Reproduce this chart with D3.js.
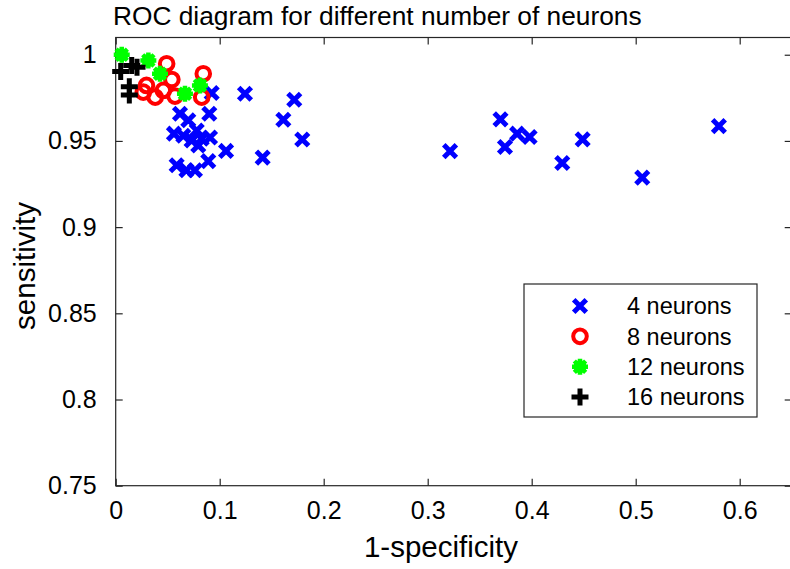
<!DOCTYPE html>
<html><head><meta charset="utf-8">
<script src="https://cdn.jsdelivr.net/npm/d3@7"></script>
<style>body{margin:0;background:#fff}svg{display:block}text{font-family:"Liberation Sans",Arial,sans-serif}</style>
</head><body><svg id="c" width="790" height="569"></svg>
<script>
const title = "ROC diagram for different number of neurons";
const xLabel = "1-specificity";
const yLabel = "sensitivity";
const xTicks = [0,0.1,0.2,0.3,0.4,0.5,0.6];
const yTicks = [0.75,0.8,0.85,0.9,0.95,1];
const seriesNames = ["4 neurons","8 neurons","12 neurons","16 neurons"];

const n4x = [0.0923,0.0618,0.09,0.0698,0.056,0.0779,0.065,0.073,0.0827,0.0907,0.0794,0.0586,0.068,0.0762,0.089,
             0.1243,0.1717,0.1612,0.1794,0.1061,0.1413,
             0.3215,0.370,0.3743,0.386,0.398,0.4294,0.449,0.580,0.5063];
const n4y = [0.9778,0.9658,0.9658,0.962,0.9542,0.956,0.953,0.9503,0.9513,0.952,0.9474,0.9359,0.933,0.933,0.9383,
             0.9774,0.9739,0.9623,0.9508,0.9442,0.9403,
             0.9441,0.9625,0.9465,0.9542,0.9523,0.9372,0.9509,0.9586,0.9287];
const n8x = [0.049,0.0842,0.0296,0.054,0.0380,0.0570,0.0458,0.0827,0.0265];
const n8y = [0.9948,0.989,0.9822,0.9856,0.9754,0.9760,0.9793,0.9754,0.9783];
const n12x = [0.0058,0.0314,0.0426,0.0666,0.081];
const n12y = [1.0,0.9967,0.989,0.9774,0.9822];
const n16x = [0.0048,0.0154,0.0205,0.0131,0.0131];
const n16y = [0.9903,0.9937,0.9928,0.9814,0.9766];

const svg = d3.select("#c");
const x = d3.scaleLinear().domain([0,0.65]).range([115.7,791.7]);
const y = d3.scaleLinear().domain([0.75,1.01]).range([485.7,37.5]);
const axisColor = "#262626";

svg.append("rect").attr("x",x(0)).attr("y",y(1.01)).attr("width",x(0.65)-x(0)).attr("height",y(0.75)-y(1.01))
  .attr("fill","none").attr("stroke",axisColor).attr("stroke-width",1.2);

const gx = svg.append("g").attr("transform",`translate(0,${y(0.75)})`)
  .call(d3.axisBottom(x).tickValues(xTicks).tickSizeInner(-7).tickSizeOuter(0).tickPadding(16).tickFormat(d3.format("")));
const gxt = svg.append("g").attr("transform",`translate(0,${y(1.01)})`)
  .call(d3.axisTop(x).tickValues(xTicks).tickSizeInner(-7).tickSizeOuter(0).tickFormat(""));
const gy = svg.append("g").attr("transform",`translate(${x(0)},0)`)
  .call(d3.axisLeft(y).tickValues(yTicks).tickSizeInner(-7).tickSizeOuter(0).tickPadding(19).tickFormat(d3.format("")));
const gyr = svg.append("g").attr("transform",`translate(${x(0.65)},0)`)
  .call(d3.axisRight(y).tickValues(yTicks).tickSizeInner(-7).tickSizeOuter(0).tickFormat(""));
[gx,gxt,gy,gyr].forEach(g=>{
  g.select(".domain").remove();
  g.selectAll(".tick line").attr("stroke",axisColor).attr("stroke-width",1.2);
  g.selectAll(".tick text").attr("font-size",25).attr("fill","#000").attr("font-family","Liberation Sans, Arial, sans-serif");
});
gx.selectAll(".tick text").attr("dy","0.71em");

svg.append("text").attr("x",113).attr("y",25).attr("font-size",26.3).attr("fill","#000").text(title);
svg.append("text").attr("x",441).attr("y",557).attr("text-anchor","middle").attr("font-size",29.5).attr("fill","#000").text(xLabel);
svg.append("text").attr("transform",`translate(35,266) rotate(-90)`).attr("text-anchor","middle")
  .attr("font-size",29.5).attr("fill","#000").text(yLabel);

function drawX(g,cx,cy){ const s=6.3;
  g.append("path").attr("d",`M${cx-s},${cy-s}L${cx+s},${cy+s}M${cx-s},${cy+s}L${cx+s},${cy-s}`)
   .attr("stroke","#0000ff").attr("stroke-width",5).attr("fill","none"); }
function drawO(g,cx,cy){
  g.append("circle").attr("cx",cx).attr("cy",cy).attr("r",6.8).attr("fill","none").attr("stroke","#ff0000").attr("stroke-width",4); }
function drawStar(g,cx,cy){ const s=8, d=s*0.7071;
  g.append("path").attr("d",`M${cx-s},${cy}L${cx+s},${cy}M${cx},${cy-s}L${cx},${cy+s}M${cx-d},${cy-d}L${cx+d},${cy+d}M${cx-d},${cy+d}L${cx+d},${cy-d}`)
   .attr("stroke","#00ff00").attr("stroke-width",4.5).attr("fill","none");
  g.append("circle").attr("cx",cx).attr("cy",cy).attr("r",6.5).attr("fill","#00ff00"); }
function drawPlus(g,cx,cy){ const s=8.5;
  g.append("path").attr("d",`M${cx-s},${cy}L${cx+s},${cy}M${cx},${cy-s}L${cx},${cy+s}`)
   .attr("stroke","#000").attr("stroke-width",5).attr("fill","none"); }

const series = [[n4x,n4y,drawX],[n8x,n8y,drawO],[n12x,n12y,drawStar],[n16x,n16y,drawPlus]];
const marks = svg.append("g");
series.forEach(([xs,ys,fn])=>{
  const g = marks.append("g");
  d3.zip(xs,ys).forEach(([a,b])=>fn(g,x(a),y(b)));
});

const lg = svg.append("g");
lg.append("rect").attr("x",524).attr("y",284).attr("width",233).attr("height",133)
  .attr("fill","#fff").attr("stroke",axisColor).attr("stroke-width",1.2);
const rowY = d3.scalePoint().domain(seriesNames).range([306,397]);
seriesNames.forEach((nm,i)=>{
  series[i][2](lg,580,rowY(nm));
  lg.append("text").attr("x",627).attr("y",rowY(nm)).attr("dy","0.36em").attr("font-size",23.5).attr("fill","#000").text(nm);
});
</script></body></html>
